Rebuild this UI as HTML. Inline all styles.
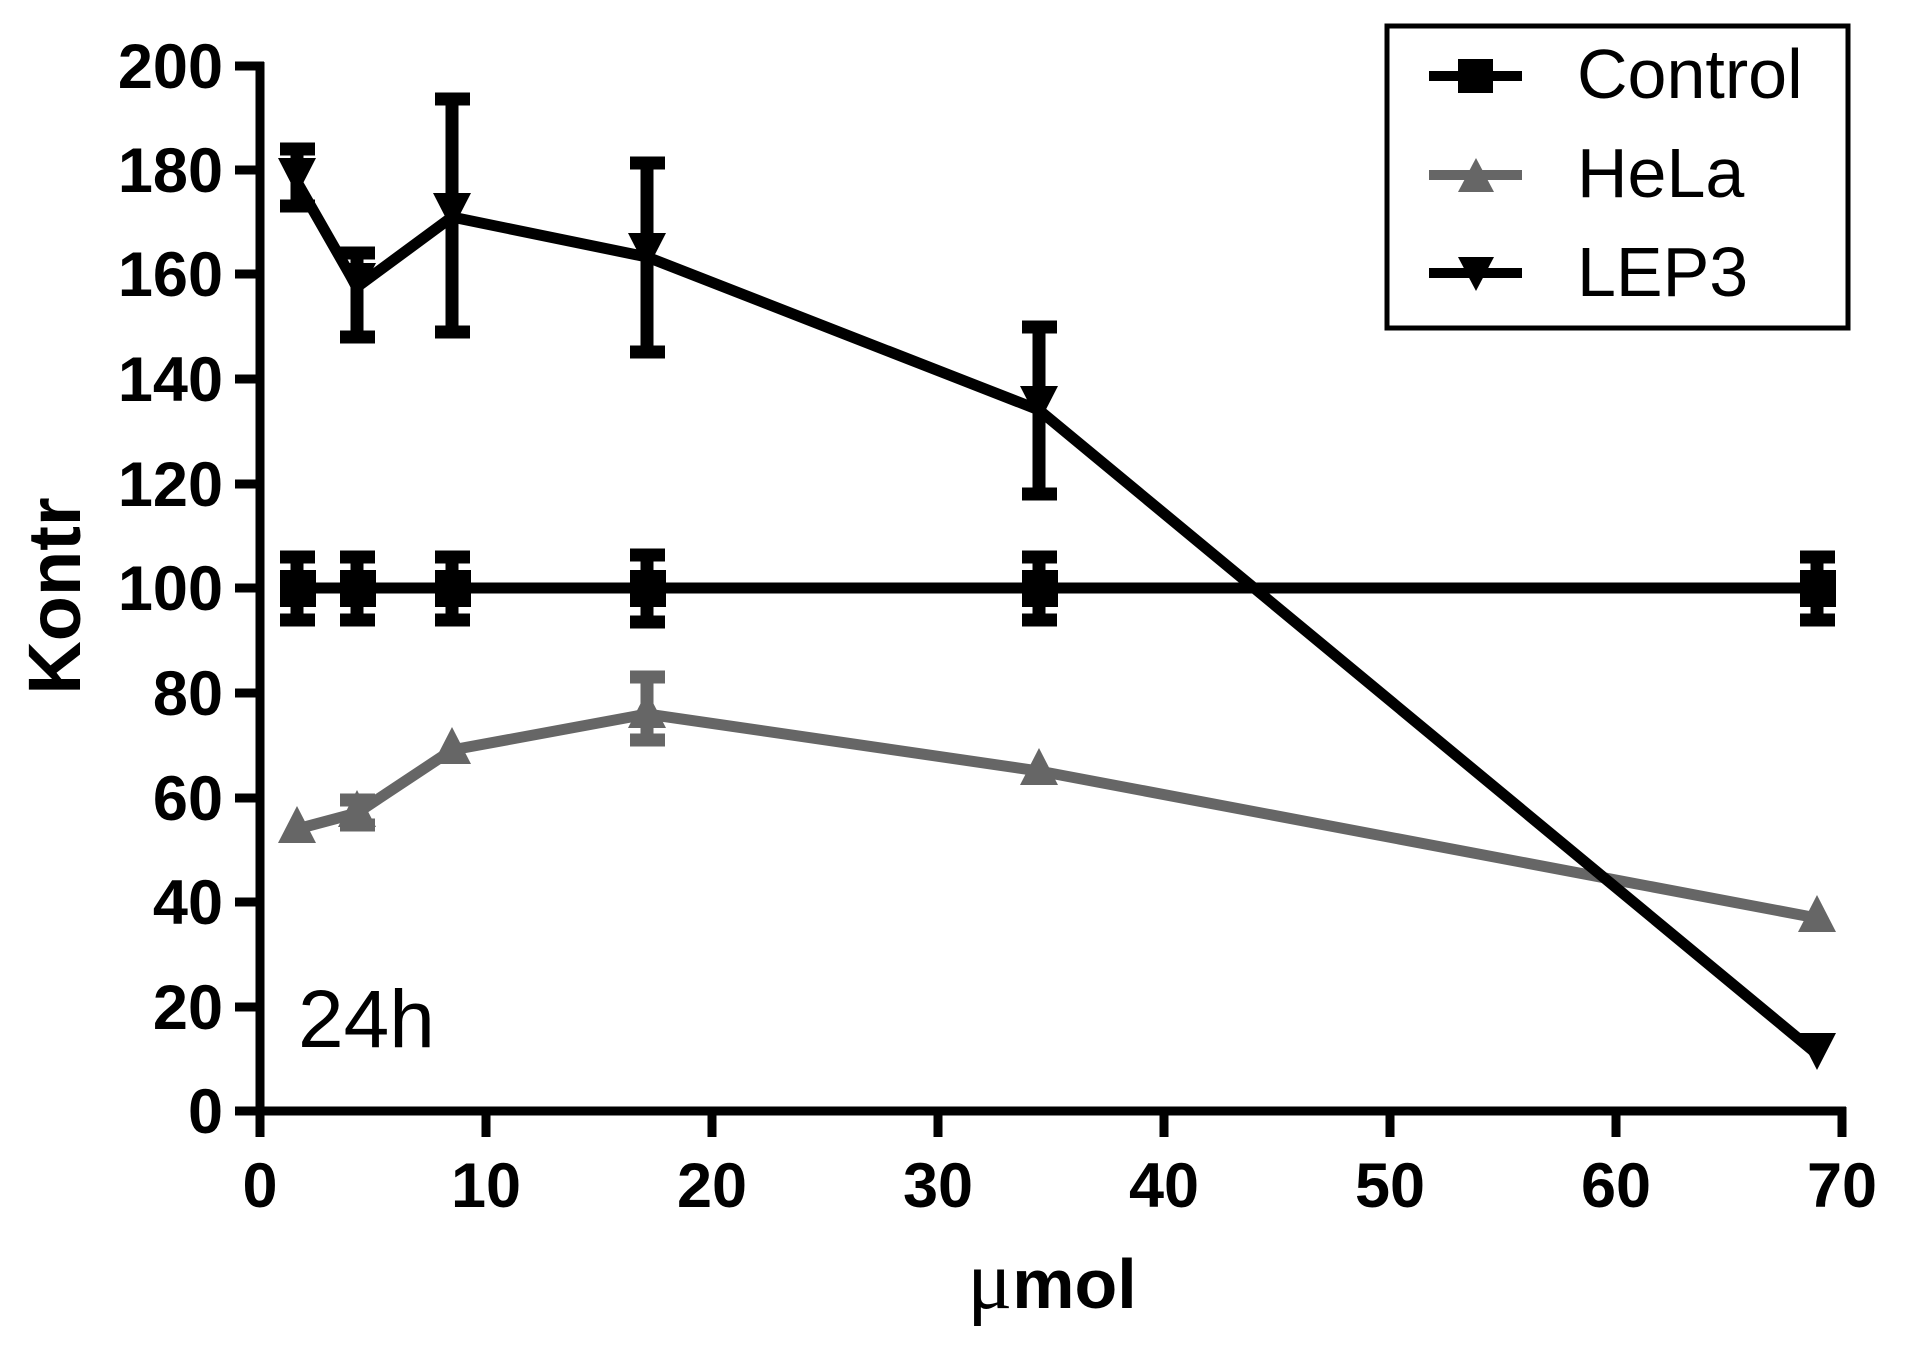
<!DOCTYPE html>
<html><head><meta charset="utf-8"><style>
html,body{margin:0;padding:0;background:#fff;}
svg{display:block;}
</style></head><body>
<svg width="1905" height="1351" viewBox="0 0 1905 1351" xmlns="http://www.w3.org/2000/svg">
<rect width="1905" height="1351" fill="#fff"/>
<g stroke="#000" stroke-width="9" fill="none">
<line x1="260" y1="62" x2="260" y2="1116"/>
<line x1="235" y1="1111" x2="1846" y2="1111"/>
<line x1="235" y1="66" x2="264" y2="66"/>
<line x1="235" y1="170" x2="264" y2="170"/>
<line x1="235" y1="274" x2="264" y2="274"/>
<line x1="235" y1="379" x2="264" y2="379"/>
<line x1="235" y1="484" x2="264" y2="484"/>
<line x1="235" y1="588" x2="264" y2="588"/>
<line x1="235" y1="693" x2="264" y2="693"/>
<line x1="235" y1="798" x2="264" y2="798"/>
<line x1="235" y1="902" x2="264" y2="902"/>
<line x1="235" y1="1007" x2="264" y2="1007"/>
<line x1="260" y1="1107" x2="260" y2="1137"/>
<line x1="486" y1="1107" x2="486" y2="1137"/>
<line x1="712" y1="1107" x2="712" y2="1137"/>
<line x1="938" y1="1107" x2="938" y2="1137"/>
<line x1="1164" y1="1107" x2="1164" y2="1137"/>
<line x1="1390" y1="1107" x2="1390" y2="1137"/>
<line x1="1616" y1="1107" x2="1616" y2="1137"/>
<line x1="1842" y1="1107" x2="1842" y2="1137"/>
</g>
<g font-family="Liberation Sans, sans-serif" font-weight="bold" font-size="63" text-anchor="end" fill="#000">
<text x="223" y="88">200</text>
<text x="223" y="192">180</text>
<text x="223" y="296">160</text>
<text x="223" y="401">140</text>
<text x="223" y="506">120</text>
<text x="223" y="610">100</text>
<text x="223" y="715">80</text>
<text x="223" y="820">60</text>
<text x="223" y="924">40</text>
<text x="223" y="1029">20</text>
<text x="223" y="1133">0</text>
</g>
<g font-family="Liberation Sans, sans-serif" font-weight="bold" font-size="63" text-anchor="middle" fill="#000">
<text x="260" y="1207">0</text>
<text x="486" y="1207">10</text>
<text x="712" y="1207">20</text>
<text x="938" y="1207">30</text>
<text x="1164" y="1207">40</text>
<text x="1390" y="1207">50</text>
<text x="1616" y="1207">60</text>
<text x="1842" y="1207">70</text>
</g>
<text transform="translate(80,596) rotate(-90)" font-family="Liberation Sans, sans-serif" font-weight="bold" font-size="74" text-anchor="middle">Kontr</text>
<text x="1052" y="1308" font-family="Liberation Sans, sans-serif" font-weight="bold" font-size="70" text-anchor="middle"><tspan font-family="Liberation Serif, serif" font-weight="normal" font-size="84">μ</tspan>mol</text>
<text x="298" y="1047" font-family="Liberation Sans, sans-serif" font-size="82">24h</text>

<g stroke="#666" fill="#666">
<polyline fill="none" stroke-width="11" points="297,829 357,813 452,750 647,714 1039,771 1817,918"/>
<line x1="647" y1="677" x2="647" y2="740" stroke-width="13"/>
<line x1="630" y1="677" x2="665" y2="677" stroke-width="13"/>
<line x1="630" y1="740" x2="665" y2="740" stroke-width="13"/>
<line x1="357" y1="800" x2="357" y2="825" stroke-width="13"/>
<line x1="340" y1="800" x2="375" y2="800" stroke-width="13"/>
<line x1="340" y1="825" x2="375" y2="825" stroke-width="13"/>
<g stroke="none">
<polygon points="297,806 278,843 316,843"/>
<polygon points="357,790 338,827 376,827"/>
<polygon points="452,727 433,764 471,764"/>
<polygon points="647,691 628,728 666,728"/>
<polygon points="1039,748 1020,785 1058,785"/>
<polygon points="1817,895 1798,932 1836,932"/>
</g>
</g>

<g stroke="#000" fill="#000">
<polyline fill="none" stroke-width="11" points="297,588 1817,588"/>
<g stroke-width="13">
<line x1="297" y1="557" x2="297" y2="620"/><line x1="280" y1="557" x2="315" y2="557"/><line x1="280" y1="620" x2="315" y2="620"/>
<line x1="357" y1="557" x2="357" y2="620"/><line x1="340" y1="557" x2="375" y2="557"/><line x1="340" y1="620" x2="375" y2="620"/>
<line x1="452" y1="557" x2="452" y2="620"/><line x1="435" y1="557" x2="470" y2="557"/><line x1="435" y1="620" x2="470" y2="620"/>
<line x1="647" y1="555" x2="647" y2="622"/><line x1="630" y1="555" x2="665" y2="555"/><line x1="630" y1="622" x2="665" y2="622"/>
<line x1="1039" y1="557" x2="1039" y2="620"/><line x1="1022" y1="557" x2="1057" y2="557"/><line x1="1022" y1="620" x2="1057" y2="620"/>
<line x1="1817" y1="557" x2="1817" y2="620"/><line x1="1800" y1="557" x2="1835" y2="557"/><line x1="1800" y1="620" x2="1835" y2="620"/>
</g>
<g stroke="none">
<rect x="280" y="570" width="36" height="37"/>
<rect x="340" y="570" width="36" height="37"/>
<rect x="435" y="570" width="36" height="37"/>
<rect x="630" y="570" width="36" height="37"/>
<rect x="1022" y="570" width="36" height="37"/>
<rect x="1800" y="570" width="36" height="37"/>
</g>
</g>

<g stroke="#000" fill="#000">
<polyline fill="none" stroke-width="11" points="297,182 357,287 452,217 647,257 1039,410 1817,1054"/>
<g stroke-width="13">
<line x1="297" y1="149" x2="297" y2="206"/><line x1="280" y1="149" x2="315" y2="149"/><line x1="280" y1="206" x2="315" y2="206"/>
<line x1="357" y1="253" x2="357" y2="337"/><line x1="340" y1="253" x2="375" y2="253"/><line x1="340" y1="337" x2="375" y2="337"/>
<line x1="452" y1="99" x2="452" y2="332"/><line x1="435" y1="99" x2="470" y2="99"/><line x1="435" y1="332" x2="470" y2="332"/>
<line x1="647" y1="163" x2="647" y2="352"/><line x1="630" y1="163" x2="665" y2="163"/><line x1="630" y1="352" x2="665" y2="352"/>
<line x1="1039" y1="327" x2="1039" y2="494"/><line x1="1022" y1="327" x2="1057" y2="327"/><line x1="1022" y1="494" x2="1057" y2="494"/>
</g>
<g stroke="none">
<polygon points="278,158 316,158 297,195"/>
<polygon points="338,263 376,263 357,300"/>
<polygon points="433,193 471,193 452,230"/>
<polygon points="628,233 666,233 647,270"/>
<polygon points="1020,386 1058,386 1039,423"/>
<polygon points="1798,1033 1836,1033 1817,1070"/>
</g>
</g>

<rect x="1387" y="26" width="461" height="302" fill="#fff" stroke="#000" stroke-width="5"/>
<g stroke-width="10">
<line x1="1429" y1="76" x2="1522" y2="76" stroke="#000"/>
<rect x="1458" y="59" width="35" height="34" fill="#000"/>
<line x1="1429" y1="175" x2="1522" y2="175" stroke="#666"/>
<polygon points="1476,158 1458,192 1494,192" fill="#666"/>
<line x1="1429" y1="273" x2="1522" y2="273" stroke="#000"/>
<polygon points="1458,257 1494,257 1476,291" fill="#000"/>
</g>
<g font-family="Liberation Sans, sans-serif" font-size="70" fill="#000">
<text x="1577" y="98">Control</text>
<text x="1577" y="197">HeLa</text>
<text x="1577" y="296">LEP3</text>
</g>
</svg>
</body></html>
